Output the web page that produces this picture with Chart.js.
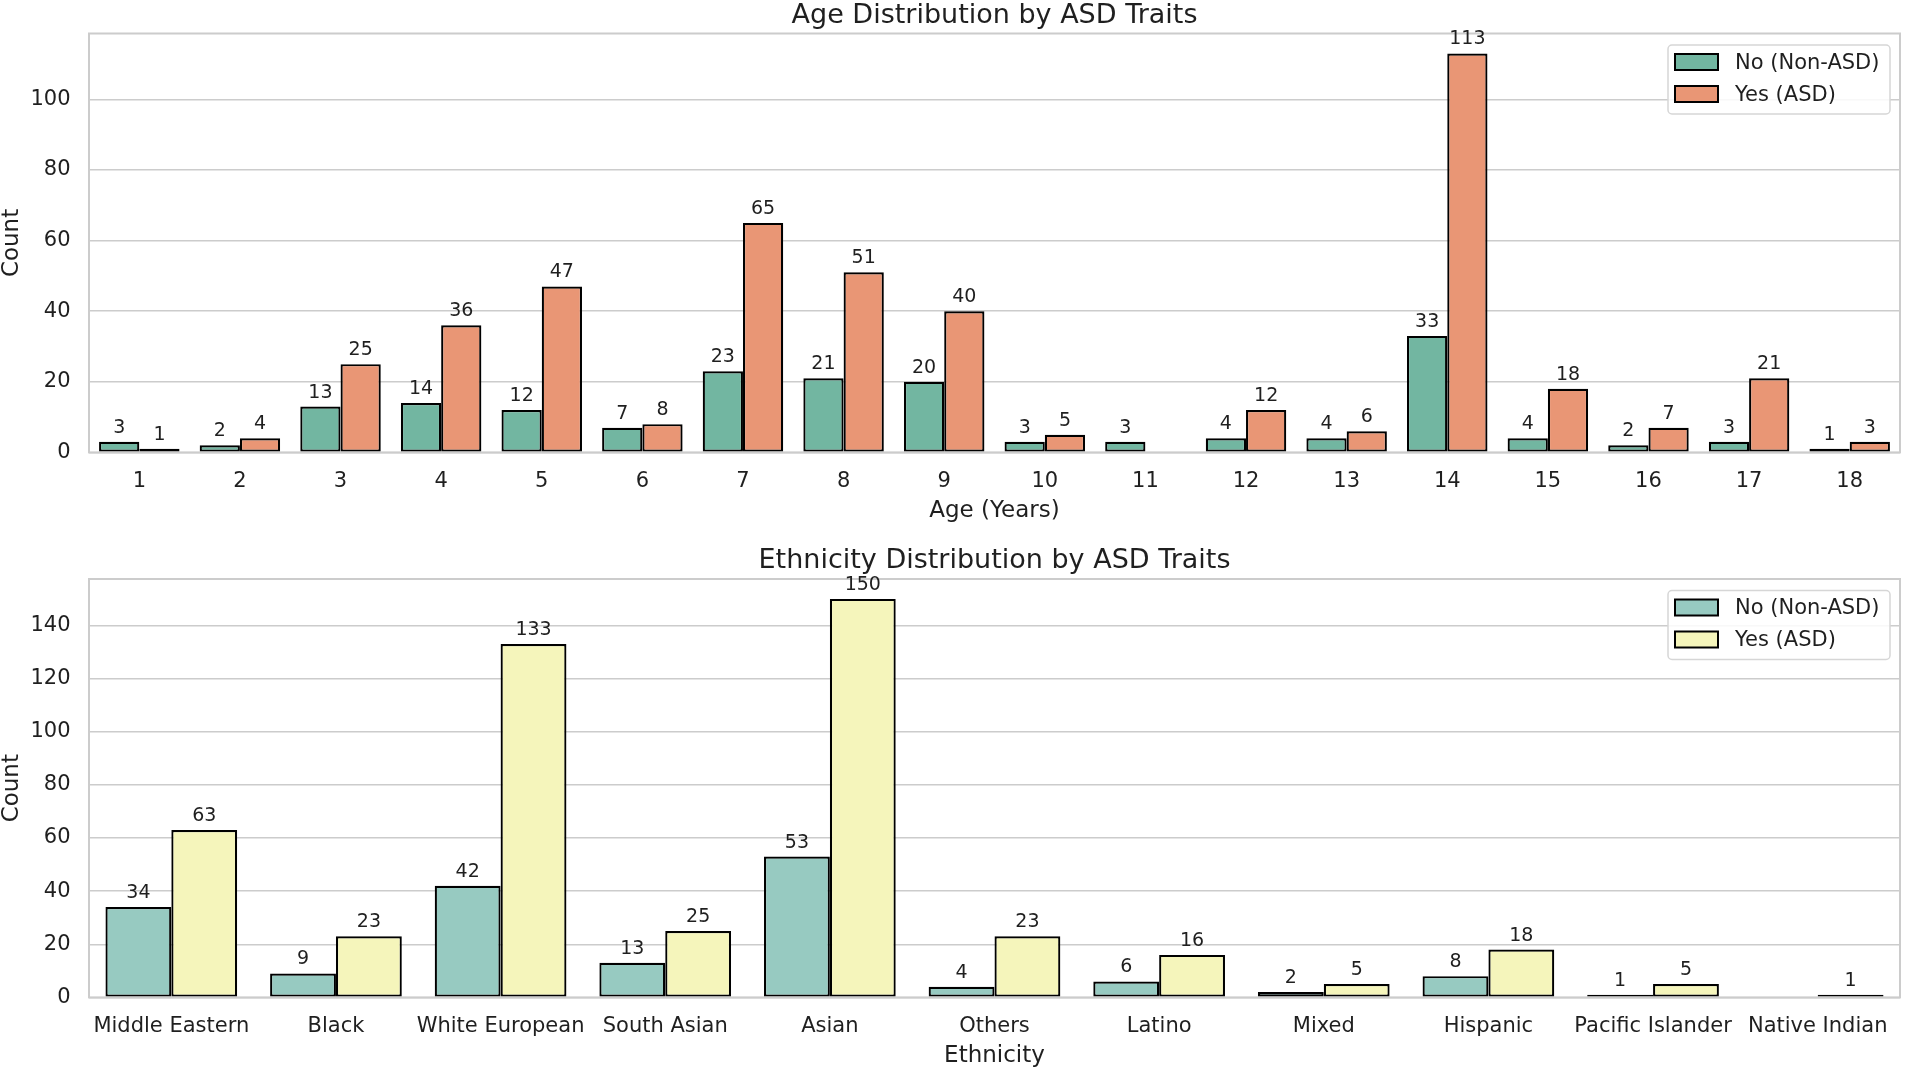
<!DOCTYPE html>
<html>
<head>
<meta charset="utf-8">
<script src="https://cdn.jsdelivr.net/npm/chart.js@4.4.1/dist/chart.umd.min.js"></script>
<style>
html,body{margin:0;padding:0;background:#ffffff;overflow:hidden;width:1905px;height:1070px}
canvas{position:absolute;left:0}
</style>
</head>
<body>
<canvas id="ageChart" width="1905" height="535" style="top:0px"></canvas>
<canvas id="ethChart" width="1905" height="535" style="top:535px"></canvas>
<script>
// ---------- data ----------
const ageCategories = ['1','2','3','4','5','6','7','8','9','10','11','12','13','14','15','16','17','18'];
const ageNoASD  = [3, 2, 13, 14, 12, 7, 23, 21, 20, 3, 3, 4, 4, 33, 4, 2, 3, 1];
const ageYesASD = [1, 4, 25, 36, 47, 8, 65, 51, 40, 5, null, 12, 6, 113, 18, 7, 21, 3];
const ageTicks  = [0, 20, 40, 60, 80, 100];

const ethnicityCategories = ['Middle Eastern','Black','White European','South Asian','Asian','Others','Latino','Mixed','Hispanic','Pacific Islander','Native Indian'];
const ethNoASD  = [34, 9, 42, 13, 53, 4, 6, 2, 8, 1, null];
const ethYesASD = [63, 23, 133, 25, 150, 23, 16, 5, 18, 5, 1];
const ethTicks  = [0, 20, 40, 60, 80, 100, 120, 140];

const seriesLabels = ['No (Non-ASD)', 'Yes (ASD)'];

// ---------- style ----------
const TEXT = '#1f1f1f';
const GRID = '#cccccc';
Chart.defaults.font.family = "'DejaVu Sans', 'Liberation Sans', sans-serif";
Chart.defaults.color = TEXT;

const decorPlugin = {
  id: 'decor',
  afterDatasetsDraw(chart) {
    const ctx = chart.ctx, a = chart.chartArea;
    ctx.save();
    // frame (spines)
    ctx.strokeStyle = GRID;
    ctx.lineWidth = 2;
    ctx.strokeRect(a.left, a.top, a.right - a.left, a.bottom - a.top);
    // value labels
    ctx.font = "19px 'DejaVu Sans'";
    ctx.fillStyle = TEXT;
    ctx.textAlign = 'center';
    ctx.textBaseline = 'alphabetic';
    chart.data.datasets.forEach((ds, i) => {
      const meta = chart.getDatasetMeta(i);
      meta.data.forEach((bar, j) => {
        const v = ds.data[j];
        if (v === null || v === undefined) return;
        ctx.fillText(String(v), bar.x, bar.y - 9);
      });
    });
    ctx.restore();
  },
  afterDraw(chart) {
    const ctx = chart.ctx, a = chart.chartArea;
    const x1 = a.right - 10, x0 = x1 - 222, y0 = a.top + 11.5, h = 69;
    ctx.save();
    ctx.beginPath();
    ctx.roundRect(x0, y0, x1 - x0, h, 4);
    ctx.fillStyle = 'rgba(255,255,255,0.85)';
    ctx.fill();
    ctx.strokeStyle = '#d6d6d6';
    ctx.lineWidth = 1.5;
    ctx.stroke();
    ctx.font = "21px 'DejaVu Sans'";
    ctx.textAlign = 'left';
    ctx.textBaseline = 'middle';
    chart.data.datasets.forEach((ds, k) => {
      const py = y0 + 9 + 32 * k;
      ctx.fillStyle = ds.backgroundColor;
      ctx.fillRect(x0 + 7, py, 43, 16);
      ctx.strokeStyle = '#000000';
      ctx.lineWidth = 2;
      ctx.strokeRect(x0 + 7, py, 43, 16);
      ctx.fillStyle = TEXT;
      ctx.fillText(ds.label, x0 + 67, py + 9.5);
    });
    ctx.restore();
  }
};

function makeChart(id, cfg) {
  const dataMax = Math.max(...cfg.no.filter(v => v !== null), ...cfg.yes.filter(v => v !== null));
  return new Chart(document.getElementById(id), {
    type: 'bar',
    data: {
      labels: cfg.labels,
      datasets: [
        { label: seriesLabels[0], data: cfg.no, backgroundColor: cfg.colors[0],
          borderColor: '#000000', borderWidth: 2.2, borderSkipped: false,
          categoryPercentage: 0.8, barPercentage: 1.0 },
        { label: seriesLabels[1], data: cfg.yes, backgroundColor: cfg.colors[1],
          borderColor: '#000000', borderWidth: 2.2, borderSkipped: false,
          categoryPercentage: 0.8, barPercentage: 1.0 }
      ]
    },
    options: {
      responsive: false,
      animation: false,
      devicePixelRatio: 1,
      layout: { padding: { left: 0, right: 5, top: 0, bottom: 0 } },
      plugins: {
        legend: { display: false },
        tooltip: { enabled: false },
        title: {
          display: true, text: cfg.title, fullSize: false, color: TEXT,
          font: { size: 27, weight: 'normal', lineHeight: 1 },
          padding: { top: cfg.titlePadTop, bottom: cfg.titlePadBottom }
        }
      },
      scales: {
        x: {
          type: 'category',
          offset: true,
          grid: { display: false, drawTicks: false },
          border: { display: false },
          ticks: { color: TEXT, font: { size: 21 }, padding: 16.5, maxRotation: 0, autoSkip: false },
          title: { display: true, text: cfg.xTitle, color: TEXT,
                   font: { size: 23, lineHeight: 1 }, padding: { top: 0, bottom: cfg.xTitlePadBottom } },
          afterFit(s) { s.height = cfg.xHeight; }
        },
        y: {
          min: 0,
          max: dataMax * 1.05,
          grid: { color: GRID, lineWidth: 1.5, drawTicks: false },
          border: { display: false },
          ticks: { color: TEXT, font: { size: 21 }, padding: 18.5 },
          afterBuildTicks(s) { s.ticks = cfg.ticks.map(v => ({ value: v })); },
          title: { display: true, text: 'Count', color: TEXT,
                   font: { size: 23, lineHeight: 1 }, padding: { top: 0.3, bottom: 0 } },
          afterFit(s) { s.width = 89; }
        }
      }
    },
    plugins: [decorPlugin]
  });
}

makeChart('ageChart', {
  labels: ageCategories, no: ageNoASD, yes: ageYesASD, ticks: ageTicks,
  colors: ['#72b6a1', '#e99675'],
  title: 'Age Distribution by ASD Traits', xTitle: 'Age (Years)',
  titlePadTop: 2.5, titlePadBottom: 4,
  xHeight: 82.6, xTitlePadBottom: 12.3
});

makeChart('ethChart', {
  labels: ethnicityCategories, no: ethNoASD, yes: ethYesASD, ticks: ethTicks,
  colors: ['#97cac1', '#f5f5bb'],
  title: 'Ethnicity Distribution by ASD Traits', xTitle: 'Ethnicity',
  titlePadTop: 12.3, titlePadBottom: 4.7,
  xHeight: 72.6, xTitlePadBottom: 2.2
});
</script>
</body>
</html>
